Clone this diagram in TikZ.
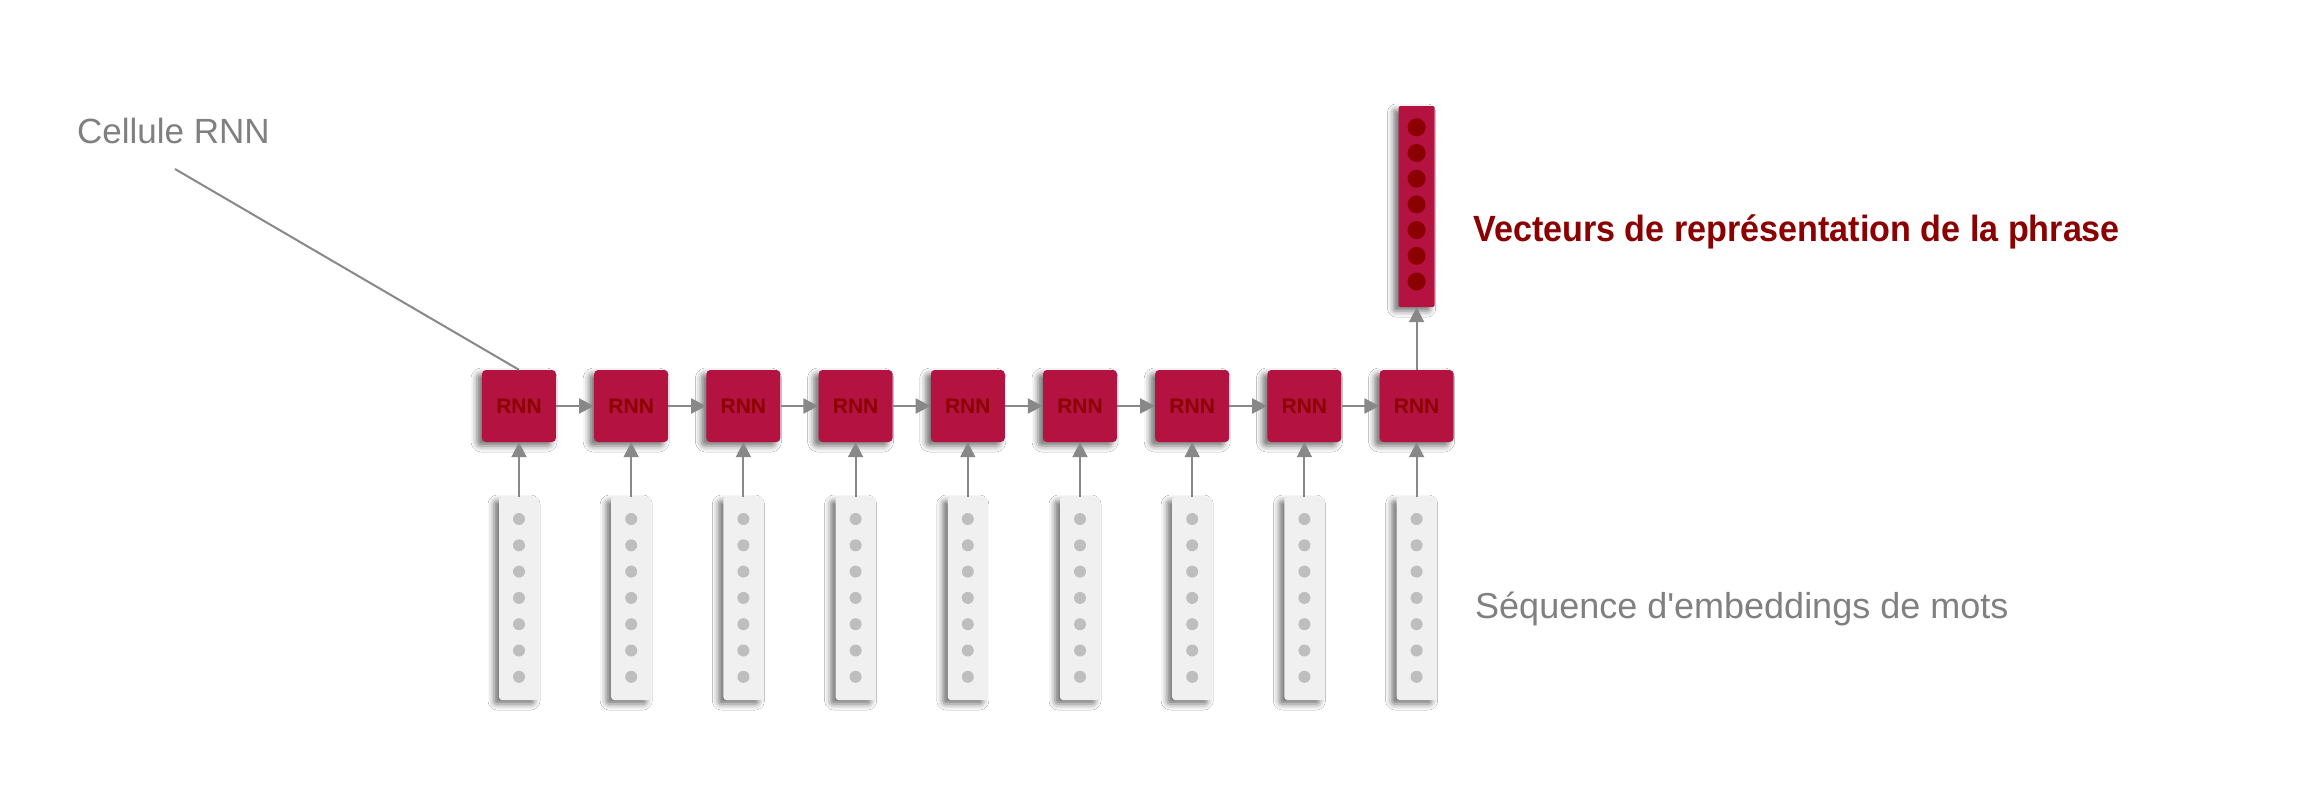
\documentclass[tikz,border=0pt]{standalone}
\usepackage{fontspec}
\setmainfont{Liberation Sans}
\newfontfamily\plainsans{Liberation Sans}[Ligatures=TeXOff]
\usetikzlibrary{arrows.meta,calc,shadows.blur}
\definecolor{crim}{RGB}{180,18,64}
\definecolor{dred}{RGB}{139,0,0}
\definecolor{lgray}{RGB}{136,136,136}
\definecolor{tgray}{RGB}{128,128,128}
\definecolor{colbg}{RGB}{240,240,240}
\definecolor{dotg}{RGB}{190,190,190}
\tikzset{
  rnnbox/.style={draw=none,fill=crim,rounded corners=4pt,minimum width=74pt,minimum height=72pt,inner sep=0pt,
    text=dred,font=\fontsize{21}{24}\selectfont\bfseries,
    blur shadow={shadow xshift=-5pt,shadow yshift=-4pt,shadow blur radius=6pt,shadow opacity=55}},
  embcol/.style={draw=none,fill=colbg,rounded corners=3pt,minimum width=40pt,minimum height=203pt,inner sep=0pt,
    blur shadow={shadow xshift=-5pt,shadow yshift=-4pt,shadow blur radius=6pt,shadow opacity=55}},
  outvec/.style={draw=none,fill=crim,rounded corners=2pt,minimum width=36pt,minimum height=201pt,inner sep=0pt,
    blur shadow={shadow xshift=-5pt,shadow yshift=-4pt,shadow blur radius=6pt,shadow opacity=55}},
  edot/.style={circle,fill=dotg,draw=none,minimum size=12pt,inner sep=0pt},
  odot/.style={circle,fill=dred,draw=none,minimum size=18pt,inner sep=0pt},
  conn/.style={draw=lgray,line width=2pt,-{Triangle[length=15pt,width=15pt]}},
  leader/.style={draw=lgray,line width=2pt},
  graytext/.style={text=tgray,inner sep=0pt,anchor=base west},
  redtext/.style={text=dred,font=\fontsize{36.5}{42}\selectfont\bfseries,inner sep=0pt,anchor=base west}
}
\begin{document}
\begin{tikzpicture}[x=1pt,y=-1pt]
\useasboundingbox[fill=white] (0,0) rectangle (2322,806);
% RNN cells, embedding columns
\foreach \i in {1,...,9}{
  \pgfmathsetmacro{\cx}{519+112.2*(\i-1)}
  \node[rnnbox] (r\i) at (\cx,406) {RNN};
  \node[embcol] (e\i) at (\cx,598.5) {};
  \foreach \k in {0,...,6}{
    \node[edot] (e\i d\k) at (\cx,519+26.3*\k) {};
  }
  \draw[conn] (e\i.north) -- (r\i.south);
}
\foreach \i [evaluate=\i as \j using int(\i+1)] in {1,...,8}{
  \draw[conn] (r\i.east) -- (r\j.west);
}
% output vector
\node[outvec] (v) at (r9 |- 0,206.5) {};
\foreach \k in {0,...,6}{
  \node[odot] (vd\k) at ($(v.north)+(0,21.5+25.7*\k)$) {};
}
\draw[conn] (r9.north) -- (v.south);
% labels
\node[graytext,font=\fontsize{35}{40}\plainsans] (lcell) at (77,143.3) {Cellule RNN};
\coordinate (lstart) at (175,169);
\draw[leader] (lstart) -- (r1.north);
\node[redtext] (lvec) at (1473,241.7) {\scalebox{0.935}[1]{Vecteurs de représentation de la phrase}};
\node[graytext,font=\fontsize{36}{42}\plainsans] (lseq) at (1475,618) {Séquence d'embeddings de mots};
\end{tikzpicture}
\end{document}
